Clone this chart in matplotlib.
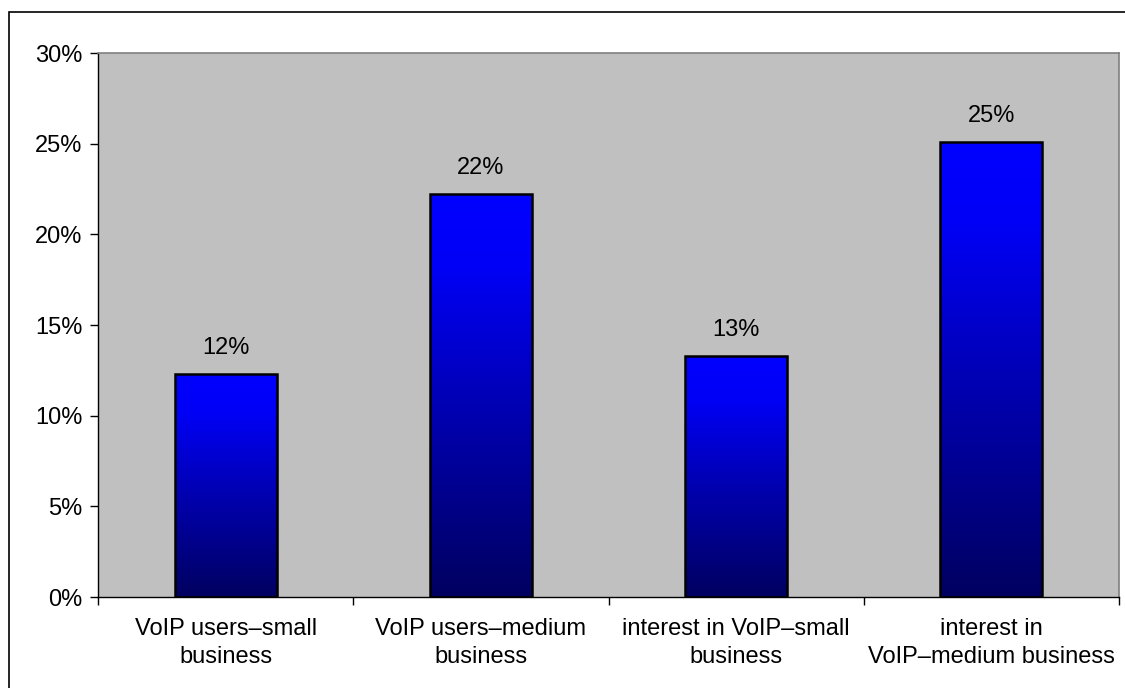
import matplotlib
matplotlib.use("Agg")
import matplotlib.pyplot as plt
import numpy as np
from matplotlib.colors import LinearSegmentedColormap
from matplotlib.patches import Rectangle
from matplotlib.ticker import FuncFormatter, FixedLocator, NullFormatter

categories = [
    "VoIP users\u2013small\nbusiness",
    "VoIP users\u2013medium\nbusiness",
    "interest in VoIP\u2013small\nbusiness",
    "interest in\nVoIP\u2013medium business",
]
shares = [0.123, 0.222, 0.133, 0.251]
y_ticks = [0.0, 0.05, 0.10, 0.15, 0.20, 0.25, 0.30]

plt.rcParams["font.family"] = ["Liberation Sans", "DejaVu Sans"]
FS = 17

W, H, DPI = 1125, 688, 100
fig = plt.figure(figsize=(W / DPI, H / DPI), dpi=DPI)

# outer chart-area frame
fig.patches.append(Rectangle((9 / W, 0 - 0.01), 1.1, (H - 12) / H + 0.01,
                             transform=fig.transFigure, fill=False,
                             edgecolor="black", linewidth=1.2, zorder=0))

left, right, top, bottom = 98, 1119, 53, 597
ax = fig.add_axes([left / W, 1 - bottom / H, (right - left) / W, (bottom - top) / H])
ax.set_facecolor("#C0C0C0")
for s in ax.spines.values():
    s.set_color("#808080")
    s.set_linewidth(1.2)
ax.spines["left"].set_color("black")
ax.spines["bottom"].set_color("black")
ax.spines["left"].set_linewidth(1.0)
ax.spines["bottom"].set_linewidth(1.0)

n = len(categories)
x = np.arange(n)

cmap = LinearSegmentedColormap.from_list(
    "bar_grad", [(0.0, "#000060"), (0.5, "#0000B8"), (0.82, "#0000F6"), (1.0, "#0000FF")])
grad = np.linspace(0, 1, 256).reshape(-1, 1)

width = 0.40
bars = ax.bar(x, shares, width=width, facecolor="none", edgecolor="black",
              linewidth=1.8, zorder=3)
for b, v in zip(bars, shares):
    x0 = b.get_x()
    im = ax.imshow(grad, cmap=cmap, origin="lower", aspect="auto",
                   extent=(x0, x0 + b.get_width(), 0, v), zorder=2)
    im.set_clip_path(b)
    ax.annotate(f"{v:.0%}", (b.get_x() + b.get_width() / 2, v),
                xytext=(0, 11), textcoords="offset points",
                ha="center", va="bottom", fontsize=FS, color="black")

ax.set_xlim(-0.5, n - 0.5)
ax.set_ylim(0, 0.30)

ax.yaxis.set_major_locator(FixedLocator(y_ticks))
ax.yaxis.set_major_formatter(FuncFormatter(lambda v, p: f"{v * 100:.0f}%"))
ax.tick_params(axis="y", direction="out", length=6, width=1, labelsize=FS, pad=5)

ax.xaxis.set_major_locator(FixedLocator(np.arange(-0.5, n, 1.0)))
ax.xaxis.set_major_formatter(NullFormatter())
ax.xaxis.set_minor_locator(FixedLocator(x))
ax.set_xticklabels(categories, minor=True)
ax.tick_params(axis="x", which="major", direction="out", length=6, width=1)
ax.tick_params(axis="x", which="minor", length=0, labelsize=FS, pad=15)
for t in ax.get_xticklabels(minor=True):
    t.set_linespacing(1.35)

fig.savefig("out.png", dpi=DPI)
